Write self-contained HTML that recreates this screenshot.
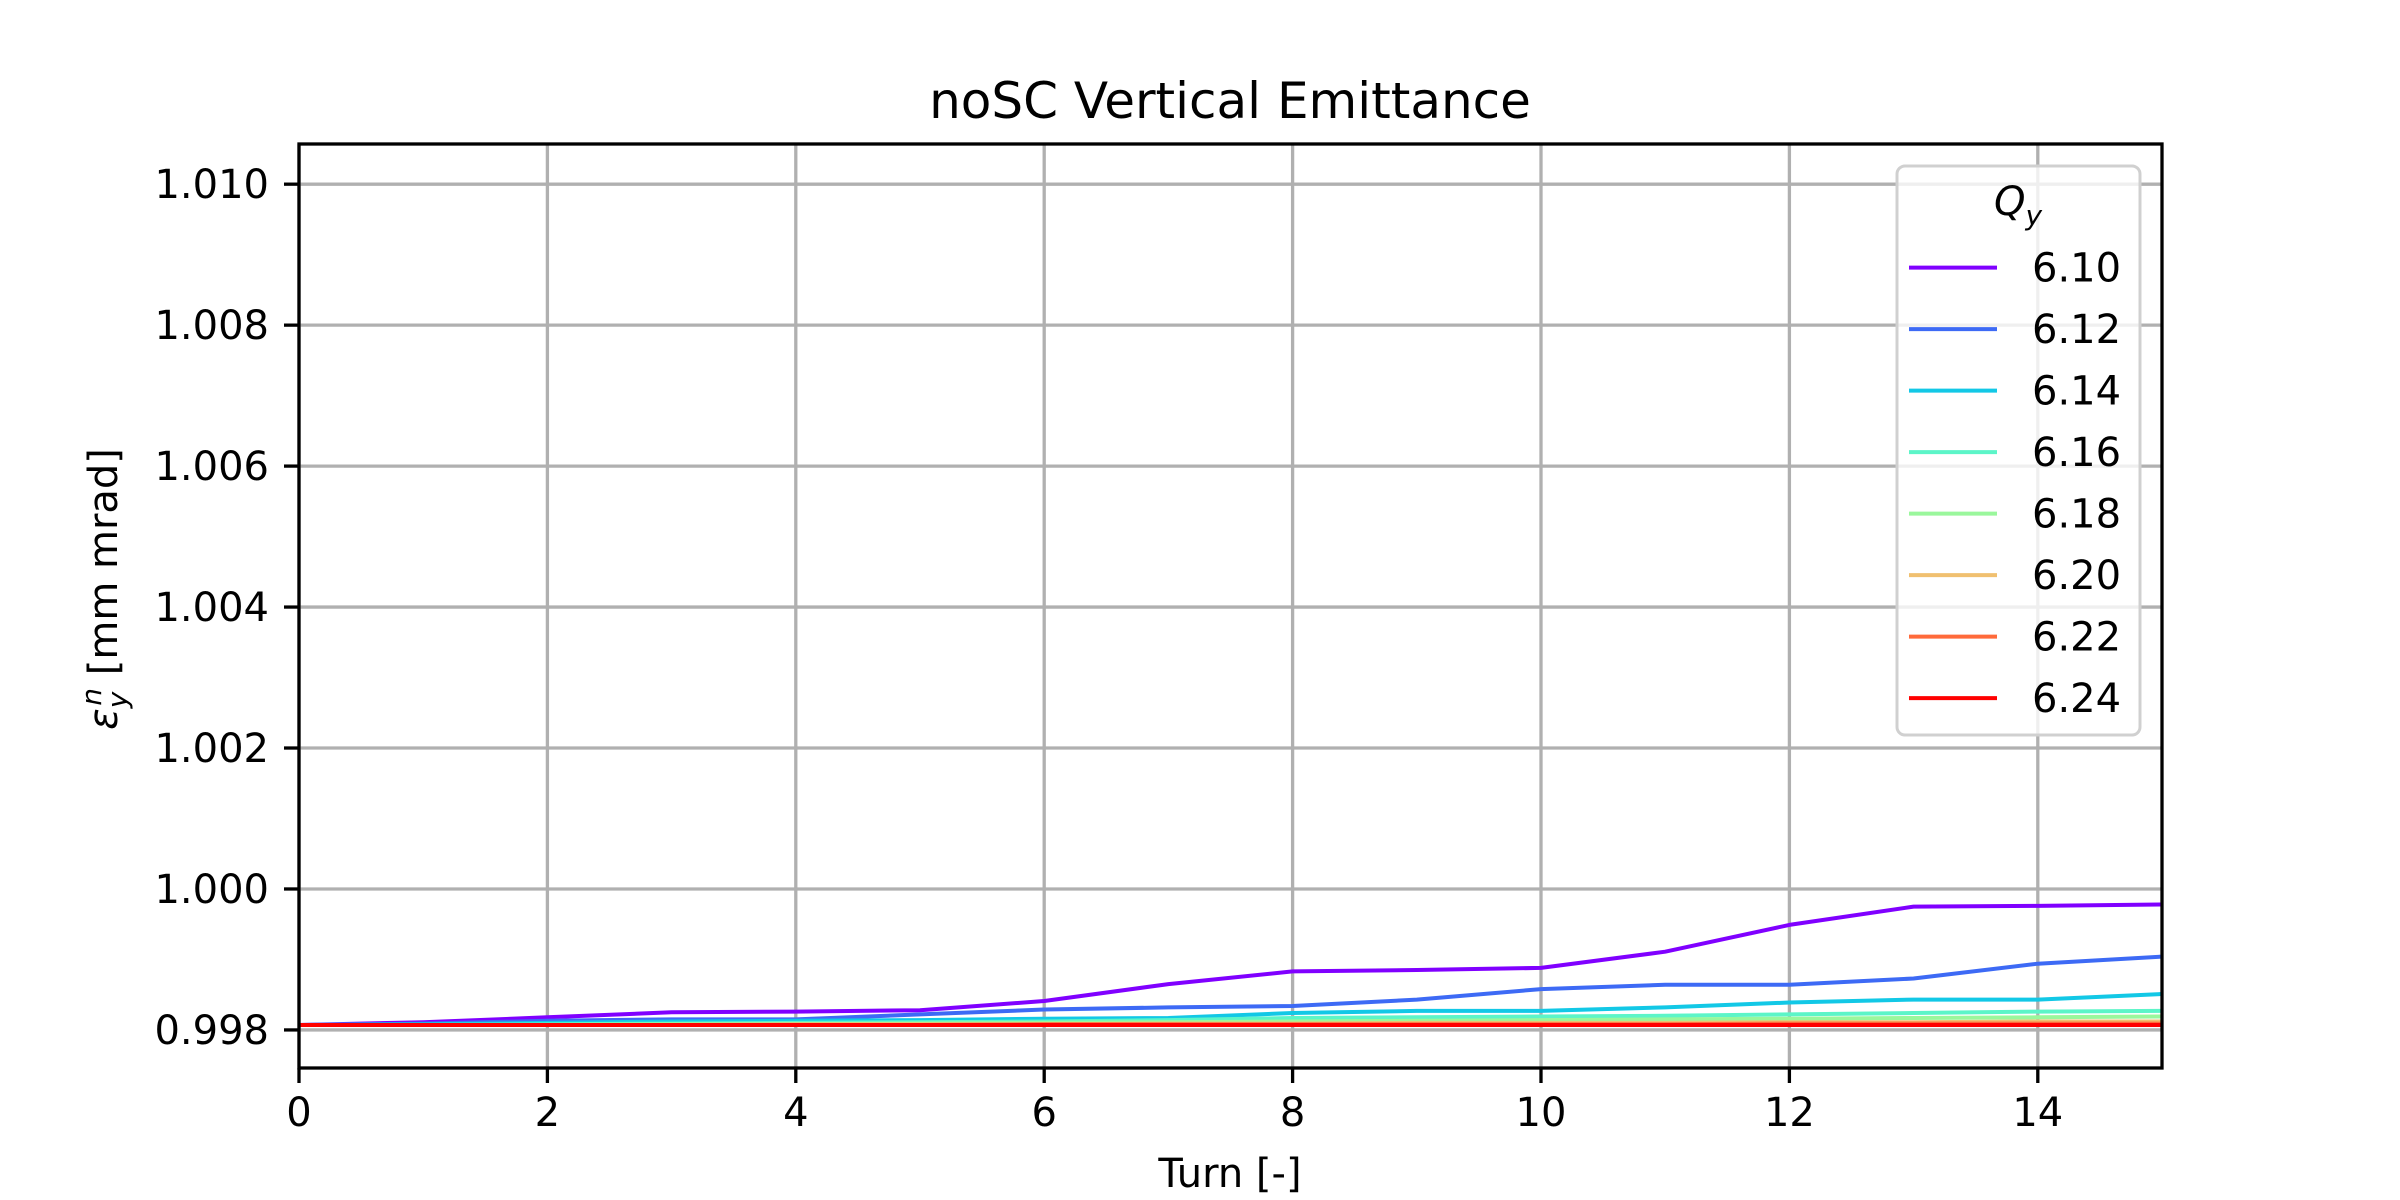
<!DOCTYPE html>
<html><head><meta charset="utf-8">
<style>
html,body{margin:0;padding:0;background:#fff;}
svg{display:block;font-family:"DejaVu Sans","Liberation Sans",sans-serif;}
</style></head>
<body>
<svg id="chart" width="2400" height="1200" viewBox="0 0 2400 1200" xmlns="http://www.w3.org/2000/svg">
<rect width="2400" height="1200" fill="#fff"/>
<g id="grid"></g>
<g id="series"></g>
<rect x="299" y="144" width="1863" height="924" fill="none" stroke="#000" stroke-width="3.3"/>
<g id="ticks"></g>
<text x="1230" y="118" font-size="50" text-anchor="middle">noSC Vertical Emittance</text>
<text x="1230" y="1187" font-size="40" text-anchor="middle">Turn [-]</text>
<text transform="translate(117,589) rotate(-90)" font-size="40" text-anchor="middle"><tspan font-style="italic">ε</tspan><tspan font-style="italic" font-size="28" dy="10">y</tspan><tspan font-style="italic" font-size="28" dx="-14" dy="-26">n</tspan><tspan dy="16"> [mm mrad]</tspan></text>
<g id="legend">
<rect x="1897" y="166" width="243" height="569" rx="8" fill="#fff" fill-opacity="0.8" stroke="#d0d0d0" stroke-width="3"/>
<text x="2018" y="215" font-size="40" text-anchor="middle" font-style="italic">Q<tspan font-size="28" dy="10">y</tspan></text>
</g>
</svg>
<script>
const turns = [0,1,2,3,4,5,6,7,8,9,10,11,12,13,14,15];
const qLabels = ["6.10","6.12","6.14","6.16","6.18","6.20","6.22","6.24"];
const colors = ["#8000ff","#3d6af5","#12c8e6","#5cf5c8","#9af79c","#f0c070","#ff6a3a","#ff0000"];
const s610 = [0.99807,0.99811,0.99818,0.99825,0.99826,0.99828,0.99841,0.99865,0.99883,0.99885,0.99888,0.99911,0.99949,0.99975,0.99976,0.99978];
const s612 = [0.99807,0.99809,0.99813,0.99815,0.99815,0.99822,0.99829,0.99832,0.99834,0.99843,0.99858,0.99864,0.99864,0.99873,0.99894,0.99904];
const s614 = [0.99807,0.99808,0.99810,0.99812,0.99813,0.99814,0.99816,0.99817,0.99824,0.99827,0.99827,0.99832,0.99839,0.99843,0.99843,0.99851];
const s616 = [0.99807,0.99807,0.99808,0.99809,0.99810,0.99811,0.99812,0.99814,0.99817,0.99818,0.99819,0.99820,0.99822,0.99824,0.99826,0.99827];
const s618 = [0.99807,0.99807,0.99807,0.99808,0.99808,0.99809,0.99810,0.99811,0.99812,0.99813,0.99814,0.99815,0.99816,0.99817,0.99818,0.99819];
const s620 = [0.99807,0.99807,0.99807,0.99807,0.99808,0.99808,0.99808,0.99809,0.99809,0.99810,0.99810,0.99810,0.99811,0.99811,0.99812,0.99812];
const s622 = [0.99807,0.99807,0.99807,0.99807,0.99807,0.99807,0.99808,0.99808,0.99808,0.99808,0.99808,0.99808,0.99809,0.99809,0.99809,0.99809];
const s624 = [0.99807,0.99807,0.99807,0.99807,0.99807,0.99807,0.99807,0.99807,0.99807,0.99807,0.99807,0.99807,0.99807,0.99807,0.99807,0.99807];
const allSeries = [s610,s612,s614,s616,s618,s620,s622,s624];
const xTicks = [0,2,4,6,8,10,12,14];
const yTicks = [0.998,1.000,1.002,1.004,1.006,1.008,1.010];

const NS="http://www.w3.org/2000/svg";
const X0=299,X1=2162,Y0=1068,Y1=144;
const xMin=0,xMax=15,yMin=0.99746,yMax=1.01057;
function xs(v){return X0+(v-xMin)/(xMax-xMin)*(X1-X0);}
function ys(v){return Y0-(v-yMin)/(yMax-yMin)*(Y0-Y1);}
function mk(tag,attrs,parent){const e=document.createElementNS(NS,tag);for(const k in attrs)e.setAttribute(k,attrs[k]);parent.appendChild(e);return e;}
const grid=document.getElementById('grid'),ticks=document.getElementById('ticks'),series=document.getElementById('series'),legend=document.getElementById('legend');
xTicks.forEach(t=>{
  const x=xs(t);
  const g=mk('line',{x1:x,x2:x,y1:Y1,y2:Y0,stroke:'#b0b0b0','stroke-width':3.3},grid);
  
  
  const tk=mk('line',{x1:x,x2:x,y1:Y0,y2:Y0+15,stroke:'#000','stroke-width':3.3},ticks);
  
  
  const tx=mk('text',{x:x,y:Y0+58,'font-size':40,'text-anchor':'middle'},ticks);
  tx.textContent=t;
  
  
});
yTicks.forEach(t=>{
  const y=ys(t);
  const g=mk('line',{x1:X0,x2:X1,y1:y,y2:y,stroke:'#b0b0b0','stroke-width':3.3},grid);
  
  
  const tk=mk('line',{x1:X0-15,x2:X0,y1:y,y2:y,stroke:'#000','stroke-width':3.3},ticks);
  
  
  const tx=mk('text',{x:X0-30,y:y+14,'font-size':40,'text-anchor':'end'},ticks);
  tx.textContent=t.toFixed(3);
  
  
});
allSeries.forEach((s,i)=>{
  const pts=s.map((v,j)=>xs(turns[j]).toFixed(1)+','+ys(v).toFixed(1)).join(' ');
  const p=mk('polyline',{points:pts,fill:'none',stroke:colors[i],'stroke-width':4,'stroke-linejoin':'round'},series);
  
  
  const ly=267.6+i*61.5;
  const ll=mk('line',{x1:1909,x2:1997,y1:ly,y2:ly,stroke:colors[i],'stroke-width':4},legend);
  
  
  const lt=mk('text',{x:2032,y:ly+14,'font-size':40},legend);
  lt.textContent=qLabels[i];
  
  
});
</script>
</body></html>
